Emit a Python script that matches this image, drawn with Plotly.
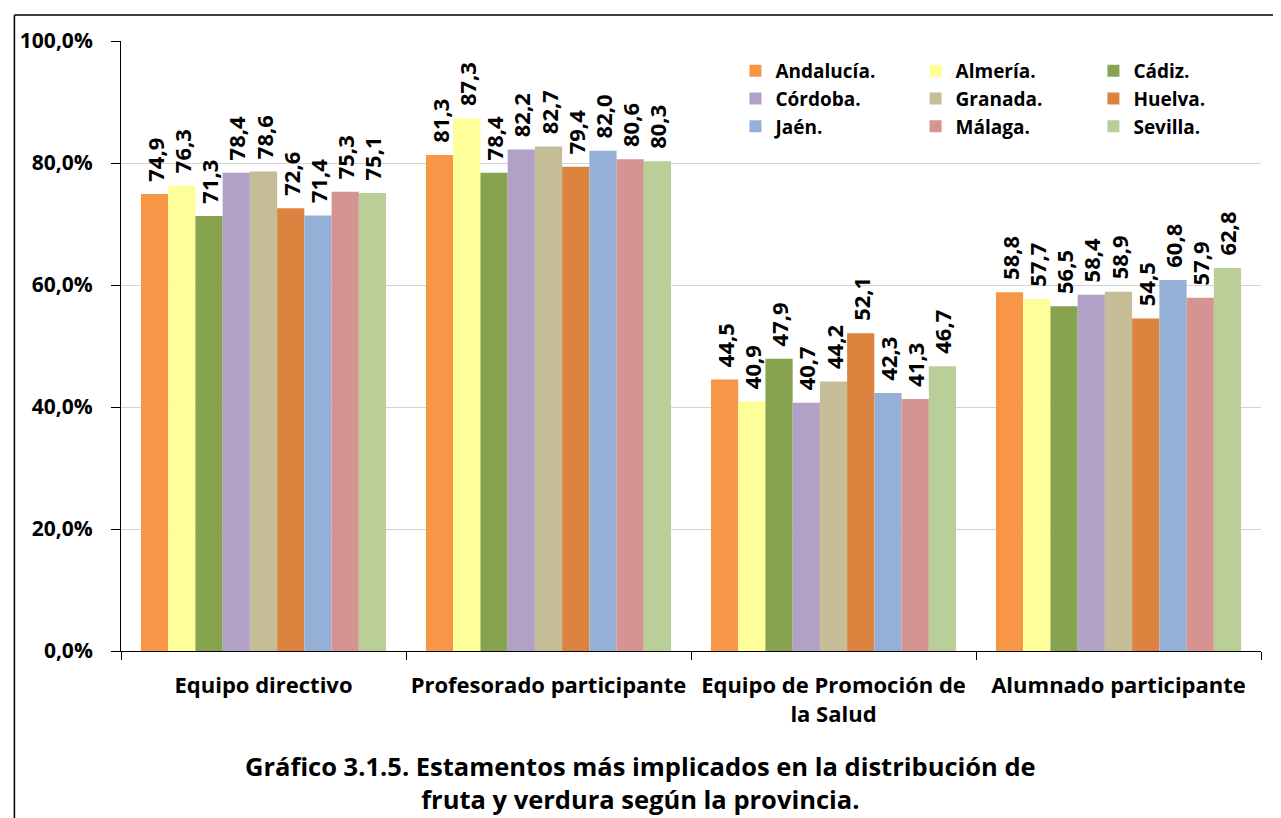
import plotly.graph_objects as go

categories = ["Equipo directivo", "Profesorado participante",
              "Equipo de Promoción de<br>la Salud", "Alumnado participante"]
provinces = ["Andalucía.", "Almería.", "Cádiz.", "Córdoba.", "Granada.",
             "Huelva.", "Jaén.", "Málaga.", "Sevilla."]
andalucia = [74.9, 81.3, 44.5, 58.8]
almeria = [76.3, 87.3, 40.9, 57.7]
cadiz = [71.3, 78.4, 47.9, 56.5]
cordoba = [78.4, 82.2, 40.7, 58.4]
granada = [78.6, 82.7, 44.2, 58.9]
huelva = [72.6, 79.4, 52.1, 54.5]
jaen = [71.4, 82.0, 42.3, 60.8]
malaga = [75.3, 80.6, 41.3, 57.9]
sevilla = [75.1, 80.3, 46.7, 62.8]
series = [andalucia, almeria, cadiz, cordoba, granada, huelva, jaen, malaga, sevilla]
colors = ["#F79646", "#FFFF99", "#88A34F", "#B2A1C7", "#C4BD97",
          "#DC843F", "#95B0D6", "#D59392", "#BACF97"]
y_tickvals = [0, 20, 40, 60, 80, 100]
y_ticktext = ["0,0%", "20,0%", "40,0%", "60,0%", "80,0%", "100,0%"]

FONT = "Open Sans"
legend_ids = ["legend", "legend2", "legend3"]

fig = go.Figure()
for i, (name, vals, col) in enumerate(zip(provinces, series, colors)):
    fig.add_trace(go.Bar(
        x=categories, y=vals, name=name,
        marker=dict(color=col, line=dict(width=0)),
        texttemplate="\u00a0\u2009%{y:.1f}", textposition="outside", textangle=-90,
        textfont=dict(family=FONT, size=22, color="black", weight="bold"),
        constraintext="none", cliponaxis=False,
        legend=legend_ids[i % 3],
    ))

leg_common = dict(font=dict(family=FONT, size=19, color="black", weight="bold"),
                  bgcolor="rgba(0,0,0,0)", orientation="v",
                  xanchor="left", yanchor="top", tracegroupgap=0, itemwidth=30)

fig.update_layout(
    width=1281, height=818,
    margin=dict(l=109, r=28, t=33, b=175),
    paper_bgcolor="white", plot_bgcolor="white",
    separators=",.",
    barmode="group", bargap=0.14, bargroupgap=0,
    legend=dict(x=0.539, y=0.982, **leg_common),
    legend2=dict(x=0.697, y=0.982, **leg_common),
    legend3=dict(x=0.853, y=0.982, **leg_common),
    xaxis=dict(showline=True, linecolor="black", linewidth=1,
               ticks="outside", tickson="boundaries", ticklen=8, tickcolor="black",
               tickfont=dict(family=FONT, size=22, color="black", weight="bold"),
               ticklabelstandoff=15, showgrid=False),
    yaxis=dict(range=[0, 100], tickvals=y_tickvals, ticktext=y_ticktext,
               showline=True, linecolor="black", linewidth=1,
               ticks="outside", ticklen=9, tickcolor="black",
               tickfont=dict(family=FONT, size=21, color="black", weight="bold"),
               ticklabelstandoff=14,
               showgrid=True, gridcolor="#D4D4D4", gridwidth=1, zeroline=False),
    annotations=[dict(
        text="Gráfico 3.1.5. Estamentos más implicados en la distribución de<br>fruta y verdura según la provincia.",
        xref="paper", yref="paper", x=0.456, y=-0.216, xanchor="center", yanchor="middle",
        showarrow=False, font=dict(family=FONT, size=25.5, color="black", weight="bold"),
    )],
    shapes=[
        dict(type="line", xref="paper", yref="paper", x0=-0.0935, x1=1.05, y0=1.0426, y1=1.0426,
             line=dict(color="black", width=1.5)),
        dict(type="line", xref="paper", yref="paper", x0=-0.0935, x1=-0.0935, y0=1.0426, y1=-0.3,
             line=dict(color="black", width=1.5)),
    ],
)

fig.write_html("out.html")
